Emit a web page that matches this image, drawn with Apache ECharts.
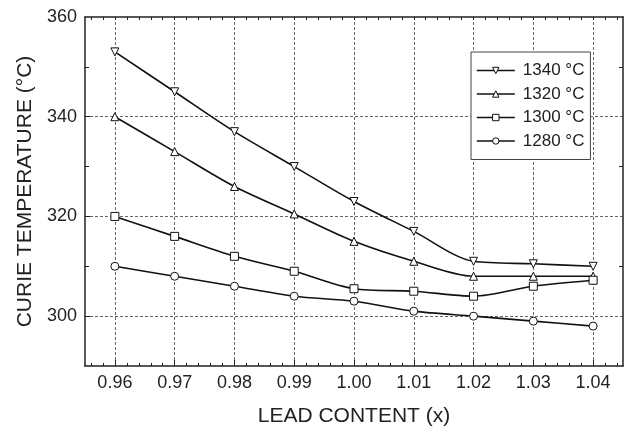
<!DOCTYPE html>
<html>
<head>
<meta charset="utf-8">
<script src="https://cdn.jsdelivr.net/npm/echarts@6/dist/echarts.min.js"></script>
<style>html,body{margin:0;padding:0;background:#fff}#c{width:631px;height:427px}</style>
</head>
<body>
<div id="c"></div>
<script>
// ---- data ----
const leadContent = [0.96, 0.97, 0.98, 0.99, 1.00, 1.01, 1.02, 1.03, 1.04];
const t1340 = [353, 345, 337, 330, 323, 317, 311, 310.5, 310];
const t1320 = [340, 333, 326, 320.5, 315, 311, 308, 308, 308];
const t1300 = [320, 316, 312, 309, 305.5, 305, 304, 306, 307.2];
const t1280 = [310, 308, 306, 304, 303, 301, 300, 299, 298];
const seriesNames = ['1340 °C', '1320 °C', '1300 °C', '1280 °C'];
const xTickLabels = [0.96, 0.97, 0.98, 0.99, 1.00, 1.01, 1.02, 1.03, 1.04];
const yTickLabels = [300, 320, 340, 360];
const yGridValues = [300, 320, 340];
const yMinorTicks = [310, 330, 350];
const xMinorTicks = [];
xTickLabels.forEach(m => { [-4, -2, 2, 4].forEach(d => xMinorTicks.push(Math.round(m * 1000 + d) / 1000)); });
const xAllTicks = xMinorTicks.concat(xTickLabels).sort((a, b) => a - b);

const FONT = 'Liberation Sans, Arial, Helvetica, sans-serif';
const TXT = '#222';
const LINE = '#222';
const X_MIN = 0.955, X_MAX = 1.045, Y_MIN = 290, Y_MAX = 360;

function mkSeries(name, vals, symbol, rotate) {
  return {
    name: name, type: 'line', xAxisIndex: 0, yAxisIndex: 0,
    data: leadContent.map((x, i) => [x, vals[i]]),
    smooth: 0.3,
    symbol: symbol, symbolSize: 8, symbolRotate: rotate || 0,
    showAllSymbol: true,
    lineStyle: { color: '#111', width: 1.6 },
    itemStyle: { color: '#fff', borderColor: '#111', borderWidth: 1 },
    emphasis: { disabled: true },
    z: 3
  };
}

const chart = echarts.init(document.getElementById('c'), null, { renderer: 'canvas' });
chart.setOption({
  animation: false,
  backgroundColor: '#fff',
  grid: { left: 85, right: 8, top: 17, bottom: 61, containLabel: false, outerBoundsMode: 'none' },
  legend: {
    orient: 'vertical', left: 471, top: 52,
    data: seriesNames,
    itemWidth: 38, itemHeight: 8, itemGap: 6.5,
    padding: [10, 6, 10, 5],
    borderColor: '#444', borderWidth: 1, backgroundColor: '#fff',
    itemStyle: { color: '#fff', borderColor: '#111', borderWidth: 1 },
    lineStyle: { color: '#111', width: 1.6 },
    textStyle: { fontFamily: FONT, fontSize: 17, color: TXT, padding: [0, 0, 0, 3] },
    selectedMode: false
  },
  xAxis: [
    {
      type: 'value', position: 'bottom', min: X_MIN, max: X_MAX,
      name: 'LEAD CONTENT (x)', nameLocation: 'middle', nameGap: 40,
      nameTextStyle: { fontFamily: FONT, fontSize: 21, color: TXT },
      axisLine: { show: true, onZero: false, lineStyle: { color: LINE, width: 1.5 } },
      axisTick: { show: true, inside: true, length: 6, customValues: xTickLabels, lineStyle: { color: LINE } },
      axisLabel: { customValues: xTickLabels, margin: 8, fontFamily: FONT, fontSize: 18, color: TXT,
        formatter: v => v.toFixed(2) },
      splitLine: { show: true, lineStyle: { type: [3, 2], color: '#666', width: 1 } }
    },
    {
      type: 'value', position: 'bottom', min: X_MIN, max: X_MAX,
      axisLine: { show: false },
      axisTick: { show: true, inside: true, length: 3, customValues: xMinorTicks, lineStyle: { color: LINE } },
      axisLabel: { show: false },
      splitLine: { show: false }
    },
    {
      type: 'value', position: 'top', min: X_MIN, max: X_MAX,
      axisLine: { show: true, onZero: false, lineStyle: { color: LINE, width: 1.5 } },
      axisTick: { show: true, inside: true, length: 3, customValues: xAllTicks, lineStyle: { color: LINE } },
      axisLabel: { show: false },
      splitLine: { show: false }
    }
  ],
  yAxis: [
    {
      type: 'value', position: 'left', min: Y_MIN, max: Y_MAX,
      name: 'CURIE TEMPERATURE (°C)', nameLocation: 'middle', nameGap: 47,
      nameTextStyle: { fontFamily: FONT, fontSize: 21, color: TXT },
      axisLine: { show: true, onZero: false, lineStyle: { color: LINE, width: 1.5 } },
      axisTick: { show: true, inside: true, length: 5, customValues: yGridValues, lineStyle: { color: LINE } },
      axisLabel: { customValues: yTickLabels, margin: 8, fontFamily: FONT, fontSize: 18, color: TXT },
      splitLine: { show: true, lineStyle: { type: [3, 2], color: '#666', width: 1 } }
    },
    {
      type: 'value', position: 'left', min: Y_MIN, max: Y_MAX,
      axisLine: { show: false },
      axisTick: { show: true, inside: true, length: 4, customValues: yMinorTicks, lineStyle: { color: LINE } },
      axisLabel: { show: false },
      splitLine: { show: false }
    },
    {
      type: 'value', position: 'right', min: Y_MIN, max: Y_MAX,
      axisLine: { show: true, onZero: false, lineStyle: { color: LINE, width: 1.5 } },
      axisTick: { show: true, inside: true, length: 4, customValues: yMinorTicks, lineStyle: { color: LINE } },
      axisLabel: { show: false },
      splitLine: { show: false }
    }
  ],
  series: [
    mkSeries(seriesNames[0], t1340, 'triangle', 180),
    mkSeries(seriesNames[1], t1320, 'triangle', 0),
    mkSeries(seriesNames[2], t1300, 'rect', 0),
    mkSeries(seriesNames[3], t1280, 'circle', 0)
  ]
});
</script>
</body>
</html>
